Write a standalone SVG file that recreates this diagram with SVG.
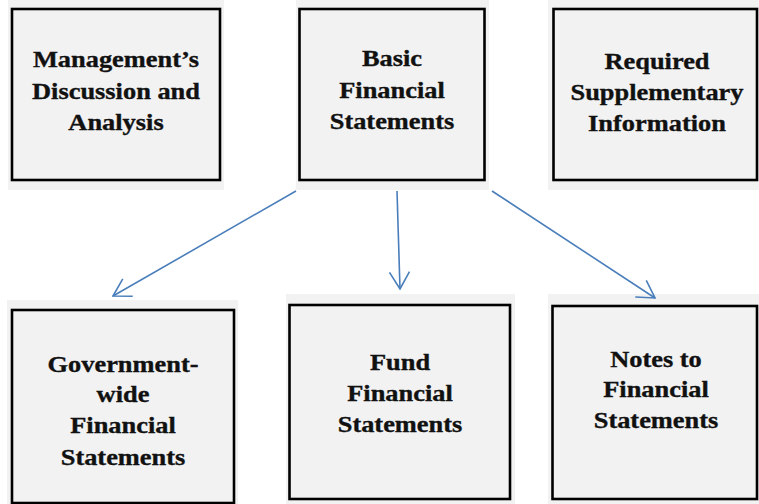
<svg xmlns="http://www.w3.org/2000/svg" width="759" height="504" viewBox="0 0 759 504">
<defs>
<style>
.bg{fill:#f2f2f2;}
.box{fill:#f2f2f2;stroke:#000;stroke-width:2.6;}
.t{font-family:"Liberation Serif","Times New Roman",serif;font-weight:bold;font-size:24px;fill:#111;stroke:#111;stroke-width:0.35;text-anchor:middle;}
.c{stroke:#4a7ebb;stroke-width:1.6;fill:none;marker-end:url(#ah);}
</style>
<marker id="ah" viewBox="0 0 20 22" refX="19" refY="11" markerWidth="20" markerHeight="22" markerUnits="userSpaceOnUse" orient="auto">
<path d="M2,1 L19,11 L2,21" fill="none" stroke="#4a7ebb" stroke-width="1.6"/>
</marker>
</defs>
<rect width="759" height="504" fill="#fff"/>
<g id="mda">
<rect class="bg" x="8" y="0" width="216" height="190"/>
<rect class="box" x="12" y="9" width="208" height="171"/>
<g transform="translate(116 0) scale(1.1 1)">
<text class="t" x="0" y="67">Management’s</text>
<text class="t" x="0" y="99">Discussion and</text>
<text class="t" x="0" y="130">Analysis</text>
</g>
</g>
<g id="basic">
<rect class="bg" x="296" y="0" width="193" height="190"/>
<rect class="box" x="299.5" y="9" width="185" height="171"/>
<g transform="translate(392 0) scale(1.1 1)">
<text class="t" x="0" y="66">Basic</text>
<text class="t" x="0" y="98">Financial</text>
<text class="t" x="0" y="129">Statements</text>
</g>
</g>
<g id="rsi">
<rect class="bg" x="548" y="0" width="211" height="190"/>
<rect class="box" x="553.5" y="9" width="203.5" height="171"/>
<g transform="translate(657 0) scale(1.1 1)">
<text class="t" x="0" y="69">Required</text>
<text class="t" x="0" y="100">Supplementary</text>
<text class="t" x="0" y="131">Information</text>
</g>
</g>
<g id="govwide">
<rect class="bg" x="7" y="300" width="231" height="204"/>
<rect class="box" x="12" y="310" width="222" height="193"/>
<g transform="translate(123 0) scale(1.1 1)">
<text class="t" x="0" y="372">Government-</text>
<text class="t" x="0" y="402">wide</text>
<text class="t" x="0" y="433">Financial</text>
<text class="t" x="0" y="465">Statements</text>
</g>
</g>
<g id="fund">
<rect class="bg" x="286" y="294" width="229" height="210"/>
<rect class="box" x="289.5" y="305" width="220.5" height="194"/>
<g transform="translate(400 0) scale(1.1 1)">
<text class="t" x="0" y="370">Fund</text>
<text class="t" x="0" y="401">Financial</text>
<text class="t" x="0" y="432">Statements</text>
</g>
</g>
<g id="notes">
<rect class="bg" x="548" y="294" width="211" height="210"/>
<rect class="box" x="552.5" y="306" width="204.5" height="193"/>
<g transform="translate(656 0) scale(1.1 1)">
<text class="t" x="0" y="367">Notes to</text>
<text class="t" x="0" y="397">Financial</text>
<text class="t" x="0" y="428">Statements</text>
</g>
</g>
<g id="connectors">
<line class="c" x1="296" y1="191" x2="113" y2="296"/>
<line class="c" x1="397" y1="191" x2="400" y2="289"/>
<line class="c" x1="492" y1="191" x2="655" y2="298"/>
</g>
</svg>
